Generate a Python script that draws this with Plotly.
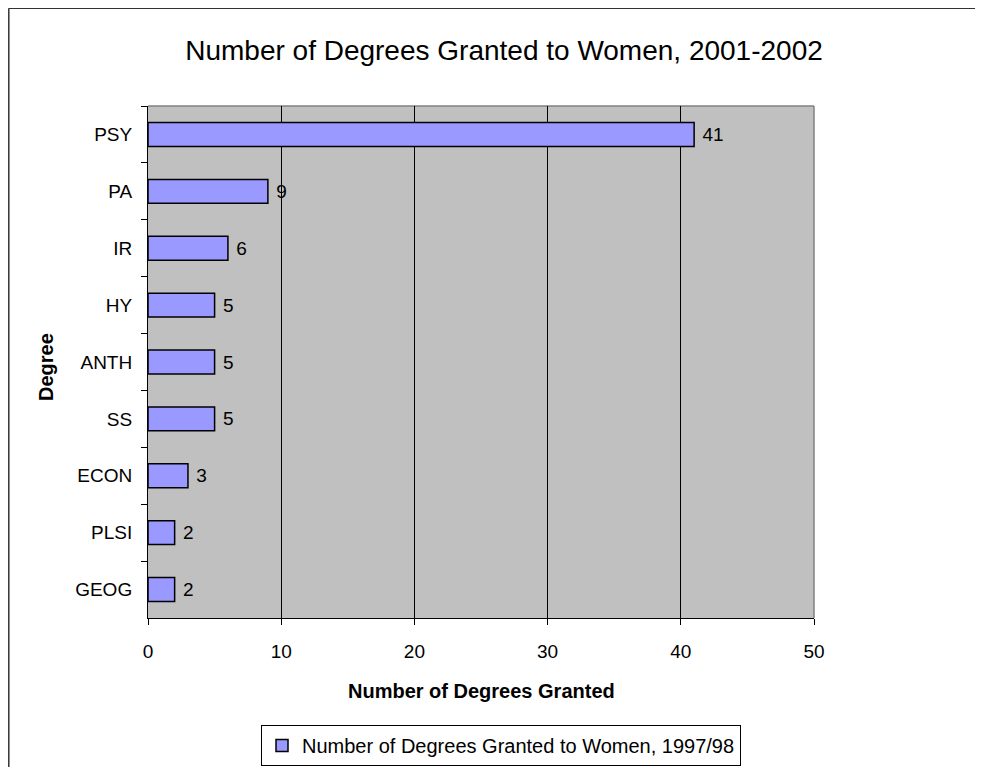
import plotly.graph_objects as go

categories = ["PSY", "PA", "IR", "HY", "ANTH", "SS", "ECON", "PLSI", "GEOG"]
values = [41, 9, 6, 5, 5, 5, 3, 2, 2]
series_name = "Number of Degrees Granted to Women, 1997/98"
title_text = "Number of Degrees Granted to Women, 2001-2002"
x_title = "Number of Degrees Granted"
y_title = "Degree"
x_ticks = [0, 10, 20, 30, 40, 50]

FONT = "Arial, Liberation Sans, sans-serif"
OFF = 8  # page body margin
W, H = 983 - OFF, 767 - OFF
L, R, T, B = 148 - OFF, 814 - OFF, 106 - OFF, 618 - OFF

def px(x):
    return (x - OFF - L) / (R - L)

def py(y):
    return (B - (y - OFF)) / (B - T)

fig = go.Figure()
fig.add_trace(go.Bar(
    y=categories, x=values, orientation="h", name=series_name,
    marker=dict(color="#9999FF", line=dict(color="black", width=1.5)),
    width=0.42,
    texttemplate="\u00a0%{x}", textposition="outside",
    textfont=dict(family=FONT, size=19, color="black"),
    cliponaxis=False, showlegend=True,
))

fig.update_layout(
    width=W, height=H,
    margin=dict(l=L, r=W - R, t=T, b=H - B, pad=0, autoexpand=False),
    paper_bgcolor="white", plot_bgcolor="#C0C0C0",
    font=dict(family=FONT, size=19, color="black"),
    title=dict(text=title_text, x=px(504), xref="paper", xanchor="center",
               y=1 - (50 - OFF) / H, yanchor="middle",
               font=dict(family=FONT, size=28, color="black")),
    showlegend=True,
    legend=dict(x=px(501), y=py(725), xanchor="center", yanchor="top",
                bordercolor="black", borderwidth=1, bgcolor="white",
                font=dict(family=FONT, size=20, color="black")),
    xaxis=dict(range=[0, 50], tickvals=x_ticks, ticks="outside", ticklen=6,
               tickcolor="black", showline=True, linecolor="black", linewidth=1,
               showgrid=True, gridcolor="black", gridwidth=1, zeroline=False,
               ticklabelstandoff=10,
               tickfont=dict(family=FONT, size=19, color="black")),
    yaxis=dict(autorange="reversed", type="category", tickson="boundaries",
               ticks="outside", ticklen=6, tickcolor="black",
               showline=True, linecolor="black", linewidth=1,
               showgrid=False, zeroline=False, ticklabelstandoff=11,
               tickfont=dict(family=FONT, size=19, color="black")),
)

# plot area border (top/right gray)
fig.add_shape(type="line", xref="paper", yref="paper", x0=0, x1=1, y0=1, y1=1,
              line=dict(color="#808080", width=1.5), layer="below")
fig.add_shape(type="line", xref="paper", yref="paper", x0=1, x1=1, y0=0, y1=1,
              line=dict(color="#808080", width=1.5), layer="below")

# chart border (left and top)
fig.add_shape(type="line", xref="paper", yref="paper",
              x0=px(8.8), x1=px(8.8), y0=py(800), y1=py(8.2),
              line=dict(color="#333333", width=1.5))
fig.add_shape(type="line", xref="paper", yref="paper",
              x0=px(8.8), x1=px(1000), y0=py(8.2), y1=py(8.2),
              line=dict(color="#333333", width=1.5))

fig.add_annotation(text="<b>" + x_title + "</b>", xref="paper", yref="paper",
                   x=px(481), y=py(691), xanchor="center", yanchor="middle",
                   showarrow=False, font=dict(family=FONT, size=20, color="black"))
fig.add_annotation(text="<b>" + y_title + "</b>", xref="paper", yref="paper",
                   x=px(46), y=py(367), xanchor="center", yanchor="middle",
                   textangle=-90, showarrow=False,
                   font=dict(family=FONT, size=20, color="black"))

fig.write_html("out.html")
